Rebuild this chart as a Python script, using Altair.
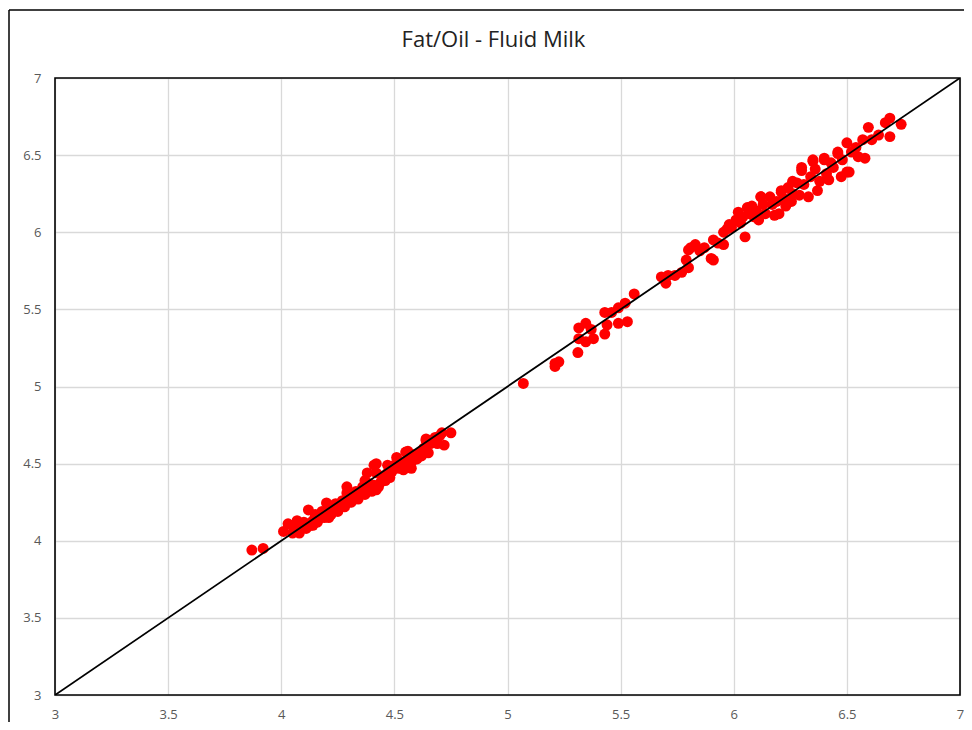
import altair as alt
import pandas as pd

TITLE = "Fat/Oil - Fluid Milk"

obs_x = [
    3.87, 3.92,
    4.01, 4.03, 4.05, 4.06, 4.07, 4.08, 4.09, 4.10, 4.11, 4.12, 4.13, 4.14, 4.15,
    4.16, 4.17, 4.18, 4.19, 4.20, 4.21, 4.22, 4.23, 4.24, 4.25, 4.26, 4.27, 4.28,
    4.29, 4.30, 4.31, 4.32, 4.33, 4.34, 4.35, 4.36, 4.37, 4.38, 4.39, 4.40, 4.41,
    4.42, 4.43, 4.44, 4.45, 4.46, 4.47, 4.48, 4.49, 4.50, 4.51, 4.52, 4.53, 4.54,
    4.55, 4.56, 4.57, 4.58, 4.59, 4.60, 4.61, 4.62, 4.63, 4.64, 4.65, 4.66, 4.67,
    4.68, 4.69, 4.70, 4.71, 4.72, 4.75, 4.42, 4.37, 4.29, 4.47, 4.56, 4.64, 4.41,
    4.14, 4.21, 4.30, 4.42, 4.575,
    5.07, 5.21, 5.227, 5.21, 5.311, 5.315, 5.346, 5.315, 5.38, 5.346, 5.37, 5.43,
    5.44, 5.43, 5.46, 5.49, 5.52, 5.49, 5.53, 5.56,
    5.68, 5.70, 5.71, 5.74, 5.77, 5.80, 5.79, 5.81, 5.80, 5.83, 5.85, 5.87, 5.90,
    5.91, 5.91, 5.93, 5.955, 5.955, 5.97, 5.98, 5.99, 6.01, 6.02, 6.03, 6.04, 6.05,
    6.06, 6.07, 6.08, 6.09, 6.10, 6.11, 6.12, 6.13, 6.14, 6.16, 6.17, 6.18, 6.19,
    6.21, 6.22, 6.23, 6.24, 6.255, 6.26, 6.28, 6.29, 6.30, 6.31, 6.33, 6.34, 6.35,
    6.36, 6.37, 6.38, 6.40, 6.41, 6.42, 6.43, 6.44, 6.46, 6.475, 6.48, 6.50, 6.50,
    6.52, 6.54, 6.55, 6.58, 6.57, 6.595, 6.61, 6.64, 6.67, 6.69, 6.69, 6.74,
    6.30, 6.35, 6.40, 6.46, 6.51, 6.12, 6.21, 6.26, 6.08, 6.20,
]
pred_y = [
    3.94, 3.95,
    4.06, 4.11, 4.05, 4.08, 4.13, 4.05, 4.09, 4.12, 4.08, 4.20, 4.10, 4.13, 4.17,
    4.12, 4.15, 4.19, 4.15, 4.245, 4.22, 4.17, 4.20, 4.24, 4.19, 4.23, 4.26, 4.22,
    4.35, 4.29, 4.25, 4.28, 4.32, 4.27, 4.31, 4.35, 4.30, 4.44, 4.37, 4.32, 4.36,
    4.50, 4.35, 4.38, 4.42, 4.39, 4.44, 4.41, 4.45, 4.49, 4.54, 4.47, 4.51, 4.46,
    4.575, 4.54, 4.49, 4.52, 4.56, 4.53, 4.57, 4.55, 4.60, 4.65, 4.57, 4.63, 4.64,
    4.67, 4.63, 4.68, 4.70, 4.62, 4.70, 4.44, 4.39, 4.31, 4.49, 4.58, 4.66, 4.49,
    4.10, 4.15, 4.25, 4.33, 4.47,
    5.02, 5.15, 5.16, 5.13, 5.22, 5.31, 5.41, 5.38, 5.31, 5.29, 5.37, 5.34,
    5.40, 5.48, 5.48, 5.51, 5.54, 5.41, 5.42, 5.60,
    5.71, 5.67, 5.72, 5.72, 5.74, 5.77, 5.82, 5.90, 5.885, 5.92, 5.88, 5.90, 5.83,
    5.82, 5.95, 5.93, 5.92, 6.00, 6.02, 6.05, 6.03, 6.08, 6.13, 6.06, 6.10, 5.97,
    6.16, 6.12, 6.17, 6.10, 6.14, 6.08, 6.23, 6.18, 6.12, 6.23, 6.18, 6.11, 6.20,
    6.26, 6.22, 6.17, 6.29, 6.20, 6.25, 6.32, 6.24, 6.40, 6.31, 6.23, 6.36, 6.46,
    6.41, 6.27, 6.33, 6.47, 6.38, 6.34, 6.45, 6.42, 6.51, 6.36, 6.47, 6.58, 6.39,
    6.52, 6.55, 6.49, 6.48, 6.60, 6.68, 6.60, 6.63, 6.71, 6.74, 6.62, 6.70,
    6.42, 6.47, 6.48, 6.52, 6.39, 6.23, 6.27, 6.33, 6.14, 6.12,
]

line_x = [3, 7]
line_y = [3, 7]
ticks = [3, 3.5, 4, 4.5, 5, 5.5, 6, 6.5, 7]

W, H = 905, 617
PAD_L, PAD_T = 47, 70

pts = pd.DataFrame({"x": obs_x, "y": pred_y})
ln = pd.DataFrame({"x": line_x, "y": line_y})
one = pd.DataFrame({"t": [TITLE]})

xs = alt.Scale(domain=[3, 7], nice=False, zero=False)
ys = alt.Scale(domain=[3, 7], nice=False, zero=False)

xaxis = alt.Axis(values=ticks, title=None, ticks=False, domain=False, format="~g",
                 grid=True, gridColor="#d9d9d9", gridWidth=1.3,
                 labelColor="#595959", labelFontSize=13, labelPadding=13,
                 labelFont="Open Sans", labelFlush=False)
yaxis = alt.Axis(values=ticks, title=None, ticks=False, domain=False, format="~g",
                 grid=True, gridColor="#d9d9d9", gridWidth=1.3,
                 labelColor="#595959", labelFontSize=13, labelPadding=14,
                 labelFont="Open Sans", labelFlush=False)

points = alt.Chart(pts).mark_circle(size=120, color="#ff0000", opacity=1).encode(
    x=alt.X("x:Q", scale=xs, axis=xaxis),
    y=alt.Y("y:Q", scale=ys, axis=yaxis),
)

diag = alt.Chart(ln).mark_line(color="black", strokeWidth=1.8, clip=True).encode(
    x=alt.X("x:Q", scale=xs),
    y=alt.Y("y:Q", scale=ys),
)

# plot-area border (drawn above the gridlines)
border = alt.Chart(one).mark_rect(fill=None, stroke="black", strokeWidth=1.6).encode(
    x=alt.value(0), x2=alt.value(W), y=alt.value(0), y2=alt.value(H)
)

# outer chart frame (left and top edges visible in the reference)
frame_left = alt.Chart(one).mark_rule(color="black", strokeWidth=1.5).encode(
    x=alt.value(-PAD_L + 1), y=alt.value(-PAD_T + 2), y2=alt.value(H + 60)
)
frame_top = alt.Chart(one).mark_rule(color="black", strokeWidth=1.5).encode(
    x=alt.value(-PAD_L + 1), x2=alt.value(W + 30), y=alt.value(-PAD_T + 2)
)

title = alt.Chart(one).mark_text(
    font="Open Sans", fontSize=22, color="#222222", align="center", baseline="middle"
).encode(text="t:N", x=alt.value(W / 2 - 14), y=alt.value(-38))

chart = alt.layer(points, diag, border, frame_left, frame_top, title).properties(
    width=W,
    height=H,
    autosize=alt.AutoSizeParams(type="none"),
    padding={"left": PAD_L, "top": PAD_T, "right": 4, "bottom": 27},
).configure_view(stroke=None).configure(background="white")

chart.save("out.html", embed_options={"renderer": "svg", "actions": False})
